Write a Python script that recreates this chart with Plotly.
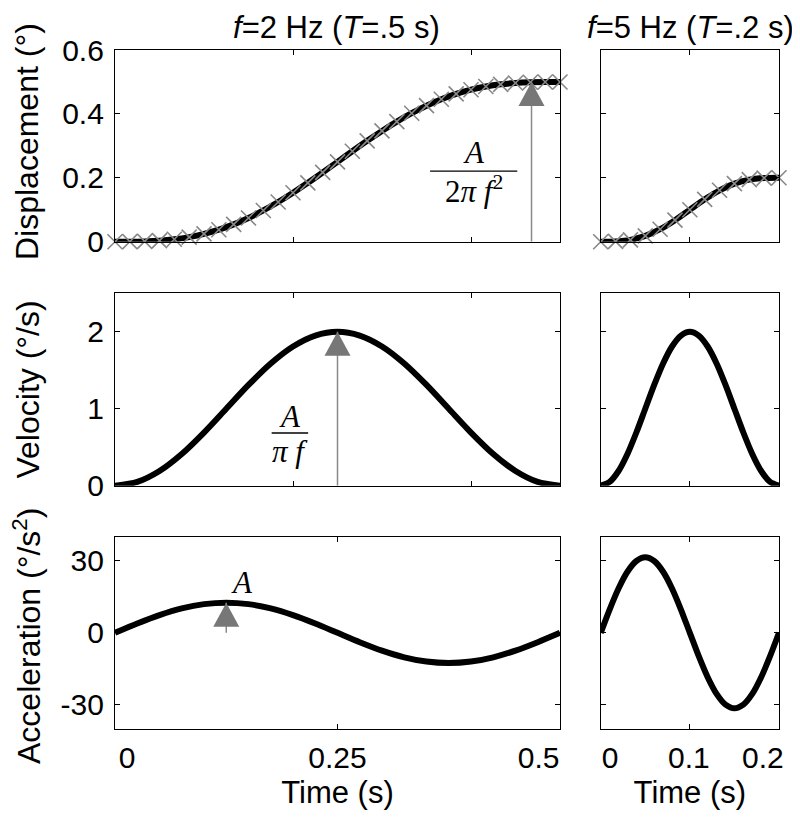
import plotly.graph_objects as go

# ---------------- data ----------------
# displacement samples at 60 Hz (t = k/60)
t_disp_2hz = [k / 60 for k in range(31)]
disp_2hz = [0.0, 0.0001, 0.001, 0.0032, 0.0075, 0.0144, 0.0243, 0.0375, 0.0542, 0.0743,
            0.0978, 0.1242, 0.1532, 0.1843, 0.2168, 0.25, 0.2832, 0.3157, 0.3468, 0.3758,
            0.4022, 0.4257, 0.4458, 0.4625, 0.4757, 0.4856, 0.4925, 0.4968, 0.4990, 0.4999, 0.5]
t_disp_5hz = [k / 60 for k in range(13)]
disp_5hz = [0.0, 0.0008, 0.0058, 0.0182, 0.0391, 0.0674, 0.1, 0.1326, 0.1609, 0.1818,
            0.1942, 0.1992, 0.2]

t_2hz = [0.0, 0.025, 0.05, 0.075, 0.1, 0.125, 0.15, 0.175, 0.2, 0.225, 0.25,
         0.275, 0.3, 0.325, 0.35, 0.375, 0.4, 0.425, 0.45, 0.475, 0.5]
t_5hz = [0.0, 0.01, 0.02, 0.03, 0.04, 0.05, 0.06, 0.07, 0.08, 0.09, 0.1,
         0.11, 0.12, 0.13, 0.14, 0.15, 0.16, 0.17, 0.18, 0.19, 0.2]

vel_2hz = [0.0, 0.0489, 0.191, 0.4122, 0.691, 1.0, 1.309, 1.5878, 1.809, 1.9511, 2.0,
           1.9511, 1.809, 1.5878, 1.309, 1.0, 0.691, 0.4122, 0.191, 0.0489, 0.0]
vel_5hz = [0.0, 0.0489, 0.191, 0.4122, 0.691, 1.0, 1.309, 1.5878, 1.809, 1.9511, 2.0,
           1.9511, 1.809, 1.5878, 1.309, 1.0, 0.691, 0.4122, 0.191, 0.0489, 0.0]

acc_2hz = [0.0, 3.883, 7.386, 10.166, 11.951, 12.566, 11.951, 10.166, 7.386, 3.883, 0.0,
           -3.883, -7.386, -10.166, -11.951, -12.566, -11.951, -10.166, -7.386, -3.883, 0.0]
acc_5hz = [0.0, 9.708, 18.466, 25.416, 29.878, 31.416, 29.878, 25.416, 18.466, 9.708, 0.0,
           -9.708, -18.466, -25.416, -29.878, -31.416, -29.878, -25.416, -18.466, -9.708, 0.0]

col_titles = ["<i>f</i>=2 Hz (<i>T</i>=.5 s)", "<i>f</i>=5 Hz (<i>T</i>=.2 s)"]
row_titles = ["Displacement (°)", "Velocity (°/s)", "Acceleration (°/s<sup>2</sup>)"]
disp_ticks = [0, 0.2, 0.4, 0.6]
disp_ticklabels = ["0", "0.2", "0.4", "0.6"]
vel_ticks = [0, 1, 2]
vel_ticklabels = ["0", "1", "2"]
acc_ticks = [-30, 0, 30]
acc_ticklabels = ["-30", "0", "30"]
time_labels_2hz = ["0", "0.25", "0.5"]
time_labels_5hz = ["0", "0.1", "0.2"]

# arrow annotations: time at which each arrow is drawn
arrow_disp_t = 0.468
arrow_vel_t = 0.25
arrow_acc_t = 0.125

# ---------------- style ----------------
SANS = "Liberation Sans, Arial, Helvetica, sans-serif"
SERIF = "Liberation Serif, Times New Roman, serif"
FS_TICK = 30
FS_TITLE = 31
LINE_W = 6
GREY = "#777777"

# the page adds an 8 px body margin; layout below is given in page pixels
OFF = 8
W, H = 800 - OFF, 817 - OFF
def px_x(p):
    return (p - OFF) / W
def px_y(p):
    return 1 - (p - OFF) / H

fig = go.Figure()

def line(x, y, xa, ya):
    fig.add_trace(go.Scatter(x=x, y=y, mode="lines", xaxis=xa, yaxis=ya,
                             line=dict(color="black", width=LINE_W, shape="spline", smoothing=0.8),
                             hoverinfo="skip", cliponaxis=False))

def markers(x, y, xa, ya):
    fig.add_trace(go.Scatter(x=x, y=y, mode="markers", xaxis=xa, yaxis=ya,
                             marker=dict(symbol="x-thin", size=15, color="#888888",
                                         line=dict(color="#888888", width=1.6)),
                             hoverinfo="skip", cliponaxis=False))

line(t_disp_2hz, disp_2hz, "x", "y")
markers(t_disp_2hz, disp_2hz, "x", "y")
line(t_disp_5hz, disp_5hz, "x2", "y2")
markers(t_disp_5hz, disp_5hz, "x2", "y2")
line(t_2hz, vel_2hz, "x3", "y3")
line(t_5hz, vel_5hz, "x4", "y4")
line(t_2hz, acc_2hz, "x5", "y5")
line(t_5hz, acc_5hz, "x6", "y6")
# placeholder traces so the label-only overlay axes are drawn
fig.add_trace(go.Scatter(x=[None], y=[None], xaxis="x7", yaxis="y5", showlegend=False, hoverinfo="skip"))
fig.add_trace(go.Scatter(x=[None], y=[None], xaxis="x8", yaxis="y6", showlegend=False, hoverinfo="skip"))

# ---------------- axes ----------------
L_dom = [px_x(115), px_x(560)]
R_dom = [px_x(600.7), px_x(779)]
rows_px = [(50, 241.7), (293.3, 485.7), (536.7, 729)]
rows = [[px_y(b), px_y(t)] for t, b in rows_px]

base = dict(showline=True, linecolor="black", linewidth=1.3, mirror="ticks",
            ticks="inside", ticklen=5, tickwidth=1, tickcolor="black",
            showgrid=False, zeroline=False, automargin=False,
            tickfont=dict(family=SANS, size=FS_TICK, color="black"))

yranges = [[0, 0.6], [0, 2.5], [-40, 40]]
yticks = [disp_ticks, vel_ticks, acc_ticks]
ytext = [disp_ticklabels, vel_ticklabels, acc_ticklabels]

lay = {}
for r in range(3):
    iL = 2 * r + 1
    iR = 2 * r + 2
    sL = "" if iL == 1 else str(iL)
    sR = str(iR)
    lay["xaxis" + sL] = dict(base, domain=L_dom, range=[0, 0.5], anchor="y" + sL,
                             tickvals=[0.25] if r == 2 else [0.2, 0.4], showticklabels=False)
    lay["xaxis" + sR] = dict(base, domain=R_dom, range=[0, 0.2], anchor="y" + sR,
                             tickvals=[0.1], showticklabels=False)
    lay["yaxis" + sL] = dict(base, domain=rows[r], range=yranges[r], anchor="x" + sL,
                             tickvals=yticks[r], ticktext=ytext[r], ticklabelstandoff=4)
    lay["yaxis" + sR] = dict(base, domain=rows[r], range=yranges[r], anchor="x" + sR,
                             tickvals=yticks[r], showticklabels=False)

# label-only bottom axes (labels sit slightly inside the frame, as in the reference)
lbl = dict(showline=False, showgrid=False, zeroline=False, ticks="", side="bottom",
           automargin=False,
           tickfont=dict(family=SANS, size=FS_TICK, color="black"), ticklabelstandoff=8,
           title=dict(text="Time (s)", font=dict(family=SANS, size=FS_TITLE, color="black"),
                      standoff=8))
lay["xaxis7"] = dict(lbl, overlaying="x5", anchor="y5", range=[0, 0.5],
                     tickvals=[0.0135, 0.25, 0.476], ticktext=time_labels_2hz)
lay["xaxis8"] = dict(lbl, overlaying="x6", anchor="y6", range=[0, 0.2],
                     tickvals=[0.0104, 0.099, 0.182], ticktext=time_labels_5hz)

fig.update_layout(**lay)

# ---------------- annotations: arrows and formulas ----------------
shapes = []
def arrow(xref, yref, t, peak):
    shapes.append(dict(type="line", xref=xref, yref=yref, x0=t, x1=t, y0=0, y1=peak,
                       line=dict(color="#8a8a8a", width=1.5)))
    shapes.append(dict(type="path", xref=xref, yref=yref, xsizemode="pixel", ysizemode="pixel",
                       xanchor=t, yanchor=peak, path="M 0 0 L -13 -24 L 13 -24 Z",
                       fillcolor=GREY, line=dict(width=0)))

arrow("x", "y", arrow_disp_t, max(disp_2hz))
arrow("x3", "y3", arrow_vel_t, max(vel_2hz))
arrow("x5", "y5", arrow_acc_t, max(acc_2hz))

# fraction bars
shapes.append(dict(type="line", xref="x", yref="y", x0=0.354, x1=0.452, y0=0.221, y1=0.221,
                   line=dict(color="black", width=1.4)))
shapes.append(dict(type="line", xref="x3", yref="y3", x0=0.176, x1=0.217, y0=0.684, y1=0.684,
                   line=dict(color="black", width=1.4)))

MF = dict(family=SERIF, size=31, color="black")
TF = dict(family=SANS, size=FS_TITLE, color="black")
ann = [
    dict(text="<i>A</i>", xref="x", yref="y", x=0.4034, y=0.28, showarrow=False, font=MF,
         xanchor="center", yanchor="middle"),
    dict(text="2<i>π f</i><sup>2</sup>", xref="x", yref="y", x=0.4034, y=0.162, showarrow=False,
         font=MF, xanchor="center", yanchor="middle"),
    dict(text="<i>A</i>", xref="x3", yref="y3", x=0.1966, y=0.9, showarrow=False, font=MF,
         xanchor="center", yanchor="middle"),
    dict(text="<i>π f</i>", xref="x3", yref="y3", x=0.1966, y=0.44, showarrow=False, font=MF,
         xanchor="center", yanchor="middle"),
    dict(text="<i>A</i>", xref="x5", yref="y5", x=0.143, y=21.0, showarrow=False, font=MF,
         xanchor="center", yanchor="middle"),
    dict(text=col_titles[0], xref="paper", yref="paper", x=px_x(336), y=1.0,
         showarrow=False, font=TF, xanchor="center", yanchor="top"),
    dict(text=col_titles[1], xref="paper", yref="paper", x=px_x(690), y=1.0,
         showarrow=False, font=TF, xanchor="center", yanchor="top"),
]
title_centers = [142, 389.5, 636]
for r in range(3):
    ann.append(dict(text=row_titles[r], xref="paper", yref="paper", x=px_x(27),
                    y=px_y(title_centers[r]), textangle=-90, showarrow=False,
                    font=dict(family=SANS, size=32, color="black"),
                    xanchor="center", yanchor="middle"))

fig.update_layout(width=W, height=H, margin=dict(l=0, r=0, t=0, b=0, pad=0),
                  paper_bgcolor="white", plot_bgcolor="white", showlegend=False,
                  shapes=shapes, annotations=ann)

fig.write_html("out.html")
